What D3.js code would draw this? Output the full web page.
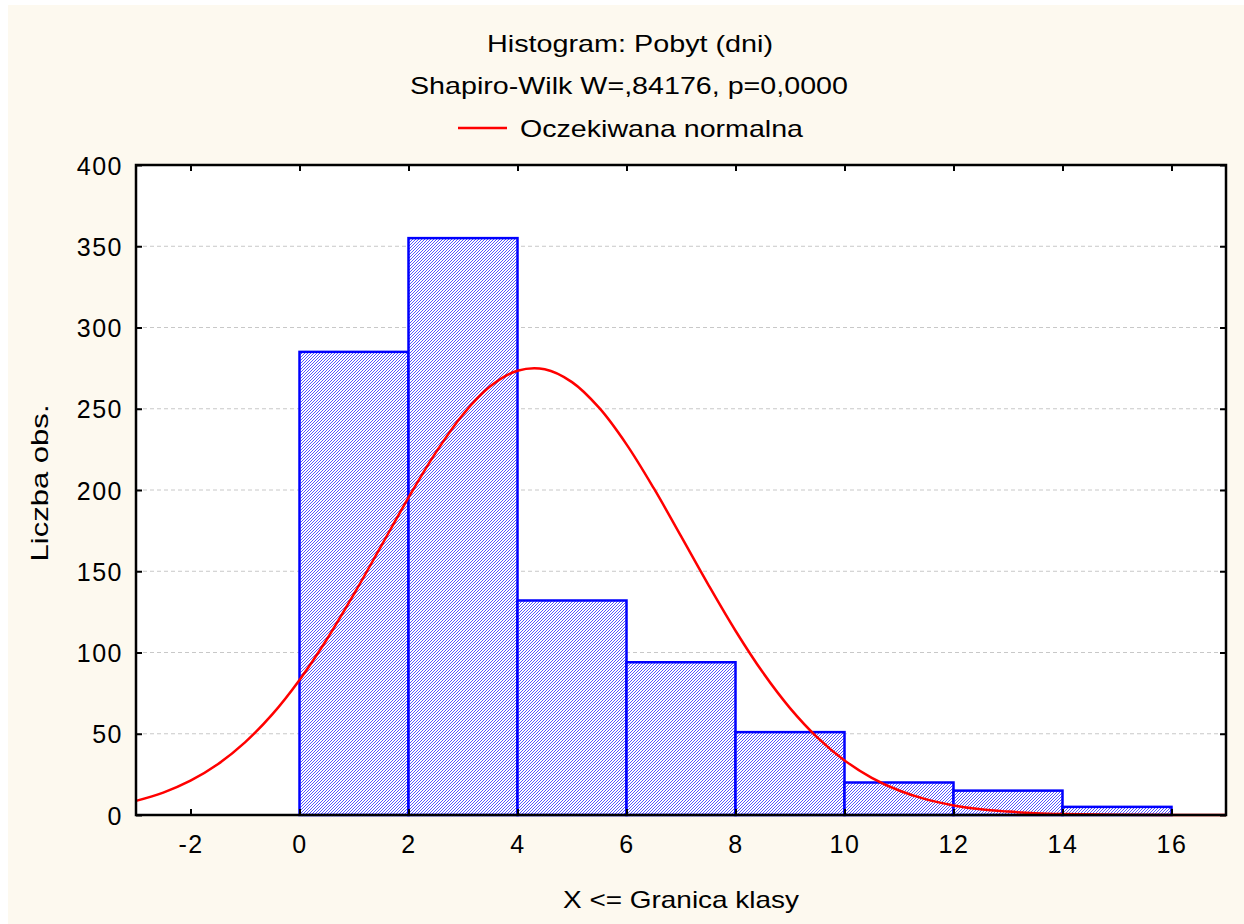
<!DOCTYPE html>
<html>
<head>
<meta charset="utf-8">
<script src="https://cdn.jsdelivr.net/npm/d3@7"></script>
<style>
  body { margin: 0; background: #fff; }
  text { font-family: 'Liberation Sans', Arial, sans-serif; fill: #000; }
</style>
</head>
<body>
<div id="chart"></div>
<script>
// histogram classes (upper bounds) and counts
var binStart = [0, 2, 4, 6, 8, 10, 12, 14]
var binEnd = [2, 4, 6, 8, 10, 12, 14, 16]
var counts = [285, 355, 132, 94, 51, 20, 15, 5]

// expected normal curve
var curveX = [-3, -2.5, -2, -1.5, -1, -0.5, 0, 0.5, 1, 1.5, 2, 2.5, 3, 3.5, 4, 4.5, 5, 5.5, 6, 6.5, 7, 7.5, 8, 8.5, 9, 9.5, 10, 10.5, 11, 11.5, 12, 12.5, 13, 13.5, 14, 15, 16, 17]
var curveY = [8.7, 13.8, 21.1, 31.2, 44.7, 61.9, 83.1, 108, 136, 165.6, 195.3, 223, 246.5, 263.8, 273.4, 274.3, 266.4, 250.5, 228.1, 201.1, 171.6, 141.8, 113.4, 87.8, 65.8, 47.8, 33.6, 22.9, 15.1, 9.6, 5.9, 3.5, 2.1, 1.1, 0.6, 0.2, 0.05, 0]

var xTicks = [-2, 0, 2, 4, 6, 8, 10, 12, 14, 16]
var yTicks = [0, 50, 100, 150, 200, 250, 300, 350, 400]

var title = 'Histogram: Pobyt (dni)'
var subtitle = 'Shapiro-Wilk W=,84176, p=0,0000'
var legendLabel = 'Oczekiwana normalna'
var xLabel = 'X <= Granica klasy'
var yLabel = 'Liczba obs.'

var W = 1244
var H = 924
var margin = { top: 165, left: 136, right: 18, bottom: 109 }
var width = W - margin.left - margin.right
var height = H - margin.top - margin.bottom

var root = d3
  .select('#chart')
  .append('svg')
  .attr('width', W)
  .attr('height', H)

var defs = root.append('defs')
var pat = defs
  .append('pattern')
  .attr('id', 'hatch')
  .attr('patternUnits', 'userSpaceOnUse')
  .attr('width', 3)
  .attr('height', 3)
pat.append('rect').attr('width', 3).attr('height', 3).attr('fill', '#fff')
pat
  .append('path')
  .attr('d', 'M-1,4 L4,-1 M-1,1 L1,-1 M2,4 L4,2')
  .attr('stroke', '#2a2aff')
  .attr('stroke-width', 0.8)

// cream background
root
  .append('rect')
  .attr('x', 8)
  .attr('y', 5)
  .attr('width', W - 8)
  .attr('height', H - 5)
  .attr('fill', '#fdf9ef')

var svg = root
  .append('g')
  .attr('transform', `translate(${margin.left},${margin.top})`)

var xPositionScale = d3.scaleLinear().domain([-3, 17]).range([0, width])
var yPositionScale = d3.scaleLinear().domain([0, 400]).range([height, 0])

svg
  .append('rect')
  .attr('width', width)
  .attr('height', height)
  .attr('fill', '#fff')

// dashed gridlines
svg
  .append('g')
  .selectAll('line')
  .data(yTicks.filter(d => d > 0 && d < 400))
  .enter()
  .append('line')
  .attr('x1', 0)
  .attr('x2', width)
  .attr('y1', d => yPositionScale(d))
  .attr('y2', d => yPositionScale(d))
  .attr('stroke', '#c8c8c8')
  .attr('stroke-dasharray', '4,3')

// bars
svg
  .append('g')
  .selectAll('rect')
  .data(counts)
  .enter()
  .append('rect')
  .attr('x', (d, i) => xPositionScale(binStart[i]))
  .attr('width', (d, i) => xPositionScale(binEnd[i]) - xPositionScale(binStart[i]))
  .attr('y', d => yPositionScale(d))
  .attr('height', d => height - yPositionScale(d))
  .attr('fill', 'url(#hatch)')
  .attr('stroke', '#0000ff')
  .attr('stroke-width', 2.5)

// normal curve
var line = d3
  .line()
  .x(d => xPositionScale(d[0]))
  .y(d => yPositionScale(d[1]))
  .curve(d3.curveCatmullRom)

svg
  .append('path')
  .datum(curveX.map((x, i) => [x, curveY[i]]))
  .attr('d', line)
  .attr('fill', 'none')
  .attr('stroke', '#ff0000')
  .attr('stroke-width', 2.5)

/* axes: ticks pointing inward on all four sides */
var xAxis = d3
  .axisBottom(xPositionScale)
  .tickValues(xTicks)
  .tickSize(-6)
  .tickPadding(20)
  .tickFormat(d => String(d))
svg
  .append('g')
  .attr('class', 'axis x-axis')
  .attr('transform', 'translate(0,' + height + ')')
  .call(xAxis)

var xAxisTop = d3.axisTop(xPositionScale).tickValues(xTicks).tickSize(-6).tickFormat('')
svg.append('g').attr('class', 'axis').call(xAxisTop)

var yAxis = d3.axisLeft(yPositionScale).tickValues(yTicks).tickSize(-6).tickPadding(13)
svg
  .append('g')
  .attr('class', 'axis y-axis')
  .call(yAxis)

var yAxisRight = d3.axisRight(yPositionScale).tickValues(yTicks).tickSize(-6).tickFormat('')
svg
  .append('g')
  .attr('class', 'axis')
  .attr('transform', 'translate(' + width + ',0)')
  .call(yAxisRight)

svg.selectAll('.axis .domain').remove()
svg.selectAll('.axis line').attr('stroke', '#000').attr('stroke-width', 2)
svg
  .selectAll('.axis text')
  .style('font-family', "'Liberation Sans', Arial, sans-serif")
  .style('font-size', '25px')
  .style('letter-spacing', '1.5px')
  .attr('fill', '#000')
svg.selectAll('.x-axis text').attr('dy', '0.71em')
svg.selectAll('.y-axis text').attr('dy', '0.36em')

// frame
svg
  .append('rect')
  .attr('width', width)
  .attr('height', height)
  .attr('fill', 'none')
  .attr('stroke', '#000')
  .attr('stroke-width', 2.5)

// titles and legend (text stretched to the reference widths)
function label(x, y, txt, len, anchor) {
  return root
    .append('text')
    .attr('x', x)
    .attr('y', y)
    .attr('text-anchor', anchor || 'middle')
    .attr('textLength', len)
    .attr('lengthAdjust', 'spacingAndGlyphs')
    .style('font-size', '24px')
    .text(txt)
}

label(630, 52, title, 286)
label(629, 94, subtitle, 438)

root
  .append('line')
  .attr('x1', 458)
  .attr('x2', 507)
  .attr('y1', 128)
  .attr('y2', 128)
  .attr('stroke', '#ff0000')
  .attr('stroke-width', 2.5)

label(520, 137, legendLabel, 283, 'start')

label(681, 908, xLabel, 236)

root
  .append('text')
  .attr('transform', 'translate(48,483) rotate(-90)')
  .attr('text-anchor', 'middle')
  .attr('textLength', 157)
  .attr('lengthAdjust', 'spacingAndGlyphs')
  .style('font-size', '24px')
  .text(yLabel)
</script>
</body>
</html>
